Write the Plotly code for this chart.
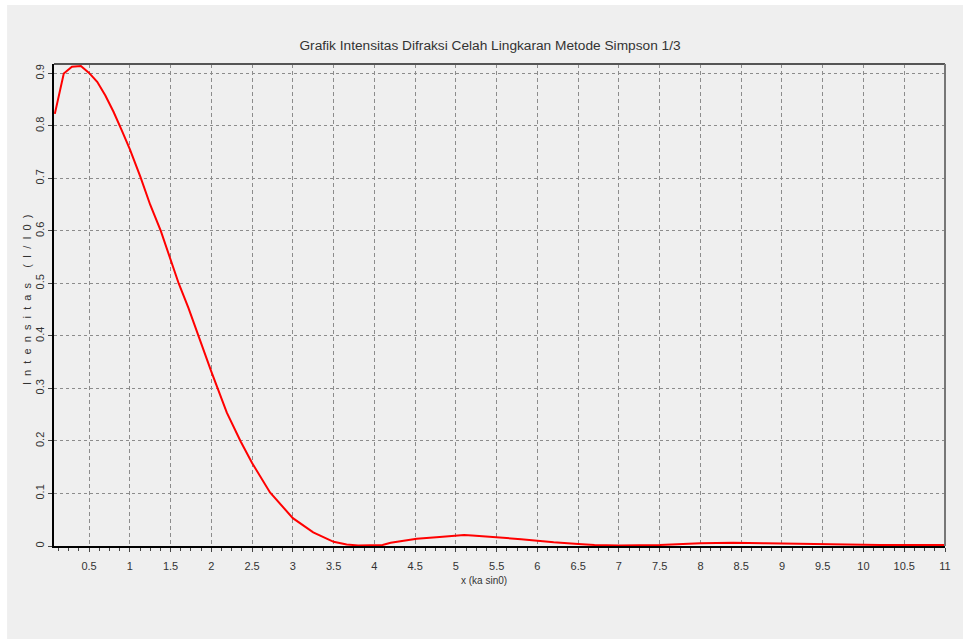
import plotly.graph_objects as go

# Data
x_vals = [0.08, 0.19, 0.29, 0.40, 0.50, 0.60, 0.70, 0.80, 0.90, 1.0, 1.13, 1.25, 1.38, 1.5,
          1.6, 1.72, 1.83, 2.0, 2.19, 2.36, 2.5, 2.72, 3.0, 3.25, 3.5, 3.66, 3.8, 4.0, 4.1,
          4.2, 4.4, 4.52, 4.8, 5.0, 5.1, 5.2, 5.5, 5.8, 6.0, 6.2, 6.5, 6.7, 7.0, 7.5, 8.0,
          8.4, 8.8, 9.5, 10.2, 11.0]
intensity = [0.823, 0.900, 0.913, 0.914, 0.901, 0.884, 0.858, 0.827, 0.792, 0.756, 0.703,
             0.650, 0.600, 0.545, 0.500, 0.453, 0.405, 0.332, 0.254, 0.199, 0.158, 0.102,
             0.053, 0.026, 0.008, 0.003, 0.001, 0.001, 0.002, 0.006, 0.011, 0.014, 0.017,
             0.020, 0.021, 0.020, 0.017, 0.013, 0.010, 0.007, 0.004, 0.002, 0.001, 0.002,
             0.005, 0.006, 0.005, 0.003, 0.002, 0.002]
x_ticks = [0.5, 1, 1.5, 2, 2.5, 3, 3.5, 4, 4.5, 5, 5.5, 6, 6.5, 7, 7.5, 8, 8.5, 9, 9.5, 10, 10.5, 11]
x_tick_text = ["0.5", "1", "1.5", "2", "2.5", "3", "3.5", "4", "4.5", "5", "5.5", "6", "6.5",
               "7", "7.5", "8", "8.5", "9", "9.5", "10", "10.5", "11"]
y_ticks = [0, 0.1, 0.2, 0.3, 0.4, 0.5, 0.6, 0.7, 0.8, 0.9]
y_tick_text = ["0", "0.1", "0.2", "0.3", "0.4", "0.5", "0.6", "0.7", "0.8", "0.9"]

title_text = "Grafik Intensitas Difraksi Celah Lingkaran Metode Simpson 1/3"
x_title = "x (ka sin0)"
y_title = "Intensitas (I/I0)"

BG = "#EFEFEF"
GRID = "#8C8C8C"
FONT = "Liberation Sans, Arial, sans-serif"

# spread letters of the y title like the reference
NB = "\u00a0"
y_title_spaced = (NB * 2).join(ch if ch != " " else NB for ch in y_title)

fig = go.Figure()
fig.add_trace(go.Scatter(x=x_vals, y=intensity, mode="lines",
                         line=dict(color="#FF0000", width=2), showlegend=False,
                         hoverinfo="x+y"))

W, H = 963, 639
L, R, T, B = 54, 16, 64, 93
pw, ph = W - L - R, H - T - B

def px_to_paper_x(px):
    return (px - L) / pw

def px_to_paper_y(py):
    return (H - B - py) / ph

shapes = [
    # gray panel (white strip at top/left like the reference)
    dict(type="rect", xref="paper", yref="paper", layer="below",
         x0=px_to_paper_x(7), x1=px_to_paper_x(W + 5),
         y0=px_to_paper_y(H + 5), y1=px_to_paper_y(5),
         fillcolor=BG, line=dict(width=0)),
    # top and right border
    dict(type="line", xref="paper", yref="paper", x0=0, x1=1, y0=1, y1=1,
         line=dict(color="#555555", width=2)),
    dict(type="line", xref="paper", yref="paper", x0=1, x1=1, y0=0, y1=1,
         line=dict(color="#777777", width=2)),
]

annotations = [
    dict(text=y_title_spaced, xref="paper", yref="paper", x=px_to_paper_x(27),
         y=px_to_paper_y(300), xanchor="center", yanchor="middle", textangle=-90,
         showarrow=False, font=dict(family=FONT, size=11, color="#333333")),
    dict(text=x_title, xref="paper", yref="paper", x=px_to_paper_x(485), y=px_to_paper_y(580),
         xanchor="center", yanchor="middle", showarrow=False,
         font=dict(family=FONT, size=10, color="#333333")),
]

fig.update_layout(
    width=W, height=H,
    margin=dict(l=L, r=R, t=T, b=B, pad=0),
    paper_bgcolor="white",
    plot_bgcolor=BG,
    shapes=shapes,
    annotations=annotations,
    title=dict(text=title_text, x=(299 + 681) / 2 / W, xanchor="center",
               y=1 - 45 / H, yanchor="middle",
               font=dict(family=FONT, size=13.7, color="#333333")),
    xaxis=dict(range=[0.07, 11], tickmode="array", tickvals=x_ticks, ticktext=x_tick_text,
               showgrid=True, gridcolor=GRID, griddash="4px,3px", gridwidth=1,
               showline=True, linecolor="black", linewidth=2,
               ticks="outside", ticklen=4, tickcolor="#444444", tickwidth=1,
               ticklabelstandoff=5,
               minor=dict(dtick=0.125, tick0=0, ticks="outside", ticklen=3,
                          tickcolor="#444444", showgrid=False),
               zeroline=False,
               tickfont=dict(family=FONT, size=11, color="#333333")),
    yaxis=dict(range=[0, 0.918], tickmode="array", tickvals=y_ticks, ticktext=y_tick_text,
               showgrid=True, gridcolor=GRID, griddash="3px,3px", gridwidth=1,
               showline=True, linecolor="black", linewidth=2,
               ticks="outside", ticklen=4, tickcolor="#444444", tickwidth=1,
               tickangle=-90, zeroline=False,
               tickfont=dict(family=FONT, size=11, color="#333333")),
)

fig.write_html("out.html", config={"displayModeBar": False},
               post_script="document.body.style.margin='0px';document.body.style.overflow='hidden';")
